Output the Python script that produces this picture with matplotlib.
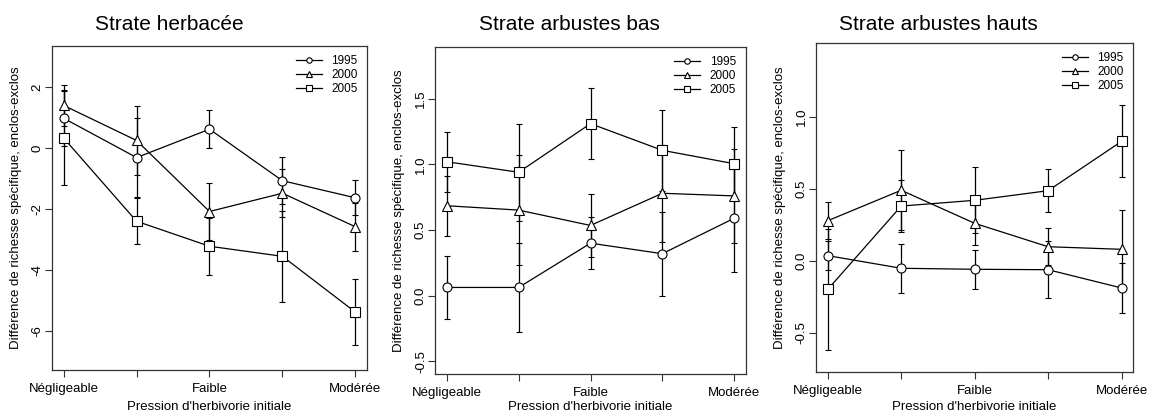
import matplotlib.pyplot as plt

plt.rcParams['font.family'] = ['Liberation Sans', 'DejaVu Sans']

positions = [1, 2, 3, 4, 5]
x_labels = ["Négligeable", "", "Faible", "", "Modérée"]
annees = ["1995", "2000", "2005"]
marqueurs = ["o", "^", "s"]

# Strate herbacée
herb_1995 = [0.98, -0.31, 0.62, -1.07, -1.63]
herb_1995_err = [0.92, 1.31, 0.63, 0.77, 0.58]
herb_2000 = [1.40, 0.25, -2.08, -1.48, -2.58]
herb_2000_err = [0.67, 1.12, 0.95, 0.78, 0.79]
herb_2005 = [0.33, -2.40, -3.22, -3.55, -5.38]
herb_2005_err = [1.53, 0.75, 0.94, 1.50, 1.07]

# Strate arbustes bas
bas_1995 = [0.063, 0.063, 0.40, 0.32, 0.59]
bas_1995_err = [0.24, 0.34, 0.20, 0.32, 0.41]
bas_2000 = [0.685, 0.652, 0.535, 0.78, 0.76]
bas_2000_err = [0.23, 0.42, 0.24, 0.37, 0.36]
bas_2005 = [1.02, 0.94, 1.31, 1.107, 1.005]
bas_2005_err = [0.23, 0.37, 0.27, 0.31, 0.28]

# Strate arbustes hauts
haut_1995 = [0.035, -0.053, -0.06, -0.063, -0.19]
haut_1995_err = [0.10, 0.17, 0.135, 0.20, 0.175]
haut_2000 = [0.278, 0.49, 0.26, 0.097, 0.079]
haut_2000_err = [0.128, 0.28, 0.15, 0.128, 0.274]
haut_2005 = [-0.20, 0.38, 0.42, 0.487, 0.83]
haut_2005_err = [0.42, 0.18, 0.23, 0.15, 0.25]

panneaux = [
    {"titre": "Strate herbacée", "titre_x": 169,
     "rect": [52, 46, 367, 370], "ylim": (-7.28, 3.35),
     "yticks": [-6, -4, -2, 0, 2], "yfmt": "{:.0f}",
     "series": [(herb_1995, herb_1995_err), (herb_2000, herb_2000_err), (herb_2005, herb_2005_err)]},
    {"titre": "Strate arbustes bas", "titre_x": 569,
     "rect": [435.3, 46.7, 745.7, 374], "ylim": (-0.596, 1.896),
     "yticks": [-0.5, 0.0, 0.5, 1.0, 1.5], "yfmt": "{:.1f}",
     "series": [(bas_1995, bas_1995_err), (bas_2000, bas_2000_err), (bas_2005, bas_2005_err)]},
    {"titre": "Strate arbustes hauts", "titre_x": 938,
     "rect": [816, 42.7, 1133.3, 372.3], "ylim": (-0.777, 1.517),
     "yticks": [-0.5, 0.0, 0.5, 1.0], "yfmt": "{:.1f}",
     "series": [(haut_1995, haut_1995_err), (haut_2000, haut_2000_err), (haut_2005, haut_2005_err)]},
]

W, H = 1149, 415
fig = plt.figure(figsize=(W / 100, H / 100), dpi=100)

for p in panneaux:
    x0, y0, x1, y1 = p["rect"]
    ax = fig.add_axes([x0 / W, (H - y1) / H, (x1 - x0) / W, (y1 - y0) / H])
    for (vals, errs), m, an in zip(p["series"], marqueurs, annees):
        ax.errorbar(positions, vals, yerr=errs, color='black', lw=0.9,
                    elinewidth=0.9, capsize=2.5, capthick=0.9,
                    marker=m, markersize=6.5, markerfacecolor='white',
                    markeredgecolor='black', markeredgewidth=0.8, label=an)
    ax.set_xlim(0.84, 5.16)
    ax.set_ylim(*p["ylim"])
    ax.set_xticks(positions)
    ax.set_xticklabels(x_labels, fontsize=9.5)
    ax.set_yticks(p["yticks"])
    ax.set_yticklabels([p["yfmt"].format(v) for v in p["yticks"]],
                       fontsize=9.5, rotation=90, va='center')
    ax.tick_params(direction='out', length=5, width=0.8, color='#333333')
    ax.tick_params(axis='y', pad=1)
    ax.tick_params(axis='x', pad=4)
    for s in ax.spines.values():
        s.set_linewidth(0.9)
        s.set_color('#333333')
    ax.set_xlabel("Pression d'herbivorie initiale", fontsize=9.5)
    ax.xaxis.label.set_va('center')
    ax.set_ylabel("Différence de richesse spécifique, enclos-exclos", fontsize=9.5)
    ax.yaxis.set_label_coords(-30 / (x1 - x0), 0.5)
    ax.xaxis.set_label_coords(0.5, -(407 - y1) / (y1 - y0))
    handles, labels = ax.get_legend_handles_labels()
    ax.legend([h[0] for h in handles], labels, loc='upper right', frameon=False,
              fontsize=8.5, markerscale=0.6, handlelength=2.2, handletextpad=0.8,
              labelspacing=0.15, borderaxespad=0.4)
    fig.text(p["titre_x"] / W, 1 - 25 / H, p["titre"], fontsize=15,
             ha='center', va='center')

plt.savefig("out.png", dpi=100)
